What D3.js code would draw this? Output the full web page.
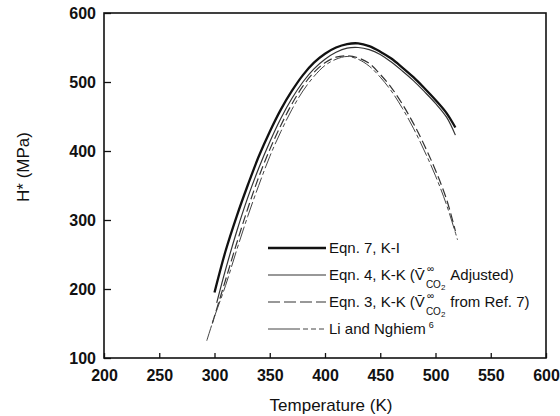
<!DOCTYPE html>
<html>
<head>
<meta charset="utf-8">
<script src="https://cdn.jsdelivr.net/npm/d3@7"></script>
<style>
  body { margin: 0; background: #fff; }
  svg text { font-family: "Liberation Sans", Arial, sans-serif; fill: #111; }
  .axis text { font-weight: bold; font-size: 16px; }
  .axis line { stroke: #111; stroke-width: 1.3; }
  .axis path { display: none; }
  .legend text { font-size: 15px; }
</style>
</head>
<body>
<div id="chart"></div>
<script>

// values (temperature K, H* MPa)
var kiT = [300, 310, 320, 330, 340, 350, 360, 370, 380, 390, 400, 410, 420, 430, 440, 450, 460, 470, 480, 490, 500, 510, 518];
var kiH = [195, 255, 305, 350, 392, 428, 460, 487, 510, 528, 541, 550, 555, 556, 552, 544, 534, 521, 507, 491, 474, 455, 434];

var kkAdjT = [302, 310, 320, 330, 340, 350, 360, 370, 380, 390, 400, 410, 420, 430, 440, 450, 460, 470, 480, 490, 500, 510, 518];
var kkAdjH = [180, 228, 283, 332, 375, 413, 447, 476, 500, 519, 533, 543, 549, 550, 547, 540, 529, 516, 502, 486, 469, 449, 423];

var kkRefT = [298, 310, 320, 330, 340, 350, 360, 370, 380, 390, 400, 410, 420, 430, 440, 450, 460, 470, 480, 490, 500, 510, 518];
var kkRefH = [150, 213, 266, 316, 362, 402, 437, 468, 494, 514, 528, 536, 538, 535, 527, 511, 492, 468, 440, 408, 372, 330, 284];

var liT = [293, 300, 310, 320, 330, 340, 350, 360, 370, 380, 390, 400, 410, 420, 430, 440, 450, 460, 470, 480, 490, 500, 510, 520];
var liH = [125, 160, 205, 256, 305, 350, 392, 428, 460, 487, 508, 524, 533, 537, 533, 523, 507, 487, 462, 433, 400, 364, 322, 271];

var xTicks = [200, 250, 300, 350, 400, 450, 500, 550, 600];
var yTicks = [100, 200, 300, 400, 500, 600];

var W = 560, H = 416;
var plot = { left: 104, right: 546, top: 13, bottom: 358 };

var svg = d3.select("#chart").append("svg")
    .attr("width", W)
    .attr("height", H);

var x = d3.scaleLinear().domain([200, 600]).range([plot.left, plot.right]);
var y = d3.scaleLinear().domain([100, 600]).range([plot.bottom, plot.top]);

// axes, ticks pointing inward
svg.append("g")
    .attr("class", "axis")
    .attr("transform", "translate(0," + plot.bottom + ")")
    .call(d3.axisBottom(x).tickValues(xTicks).tickSize(-5).tickPadding(12).tickFormat(d3.format("d")));

svg.append("g")
    .attr("class", "axis")
    .attr("transform", "translate(" + plot.left + ",0)")
    .call(d3.axisLeft(y).tickValues(yTicks).tickSize(-7).tickPadding(8).tickFormat(d3.format("d")));

// frame
svg.append("rect")
    .attr("x", plot.left)
    .attr("y", plot.top)
    .attr("width", plot.right - plot.left)
    .attr("height", plot.bottom - plot.top)
    .attr("fill", "none")
    .attr("stroke", "#111")
    .attr("stroke-width", 1.6);

// axis titles
svg.append("text")
    .attr("x", (plot.left + plot.right) / 2 + 6)
    .attr("y", 411)
    .attr("text-anchor", "middle")
    .style("font-size", "17px")
    .text("Temperature (K)");

svg.append("text")
    .attr("transform", "translate(29,167) rotate(-90)")
    .attr("text-anchor", "middle")
    .style("font-size", "17px")
    .text("H* (MPa)");

// curves
var series = [
    { T: kiT, H: kiH, width: 2.3, color: "#111", dash: null },
    { T: kkAdjT, H: kkAdjH, width: 1.2, color: "#333", dash: null },
    { T: kkRefT, H: kkRefH, width: 1.2, color: "#333", dash: "9,4" },
    { T: liT, H: liH, width: 1.0, color: "#444", dash: "16,3,4,3" }
];

var line = d3.line()
    .x(function(d) { return x(d[0]); })
    .y(function(d) { return y(d[1]); })
    .curve(d3.curveCatmullRom.alpha(0.5));

series.forEach(function(s) {
    var pts = s.T.map(function(t, i) { return [t, s.H[i]]; });
    svg.append("path")
        .datum(pts)
        .attr("d", line)
        .attr("fill", "none")
        .attr("stroke", s.color)
        .attr("stroke-width", s.width)
        .attr("stroke-dasharray", s.dash);
});

// legend
var lg = svg.append("g").attr("class", "legend").attr("transform", "translate(268,248)");
var rowH = 27;

function addRow(i, s) {
    var g = lg.append("g").attr("transform", "translate(0," + (i * rowH) + ")");
    if (i == 3) {
        g.append("line").attr("x1", 0).attr("x2", 32).attr("y1", 0).attr("y2", 0)
            .attr("stroke", s.color).attr("stroke-width", s.width);
        g.append("line").attr("x1", 35).attr("x2", 58).attr("y1", 0).attr("y2", 0)
            .attr("stroke", s.color).attr("stroke-width", s.width).attr("stroke-dasharray", "5,3");
    } else {
        g.append("line").attr("x1", 0).attr("x2", 58).attr("y1", 0).attr("y2", 0)
            .attr("stroke", s.color).attr("stroke-width", s.width)
            .attr("stroke-dasharray", s.dash ? "12,4" : null);
    }
    return g;
}

addRow(0, series[0]).append("text").attr("x", 61).attr("y", 5).text("Eqn. 7, K-I");

// "(V-bar, inf over CO2)" built from separate pieces so they stack
function vco2(g, pre, post) {
    var a = g.append("text").attr("x", 61).attr("y", 5).text(pre + "(V\u0304");
    var x0 = 61 + a.node().getComputedTextLength() + 1;
    g.append("text").attr("x", x0 + 1).attr("y", -3).style("font-size", "10px").text("\u221e");
    var sub = g.append("text").attr("x", x0).attr("y", 13).style("font-size", "10px");
    sub.append("tspan").text("CO");
    sub.append("tspan").attr("dy", 2).style("font-size", "8px").text("2");
    var x1 = x0 + sub.node().getComputedTextLength() + 5;
    g.append("text").attr("x", x1).attr("y", 5).text(post);
}

vco2(addRow(1, series[1]), "Eqn. 4, K-K ", "Adjusted)");
vco2(addRow(2, series[2]), "Eqn. 3, K-K ", "from Ref. 7)");

var li = addRow(3, series[3]).append("text").attr("x", 61).attr("y", 5);
li.append("tspan").text("Li and Nghiem");
li.append("tspan").attr("dx", 3).attr("dy", -6).style("font-size", "9px").text("6");

</script>
</body>
</html>
